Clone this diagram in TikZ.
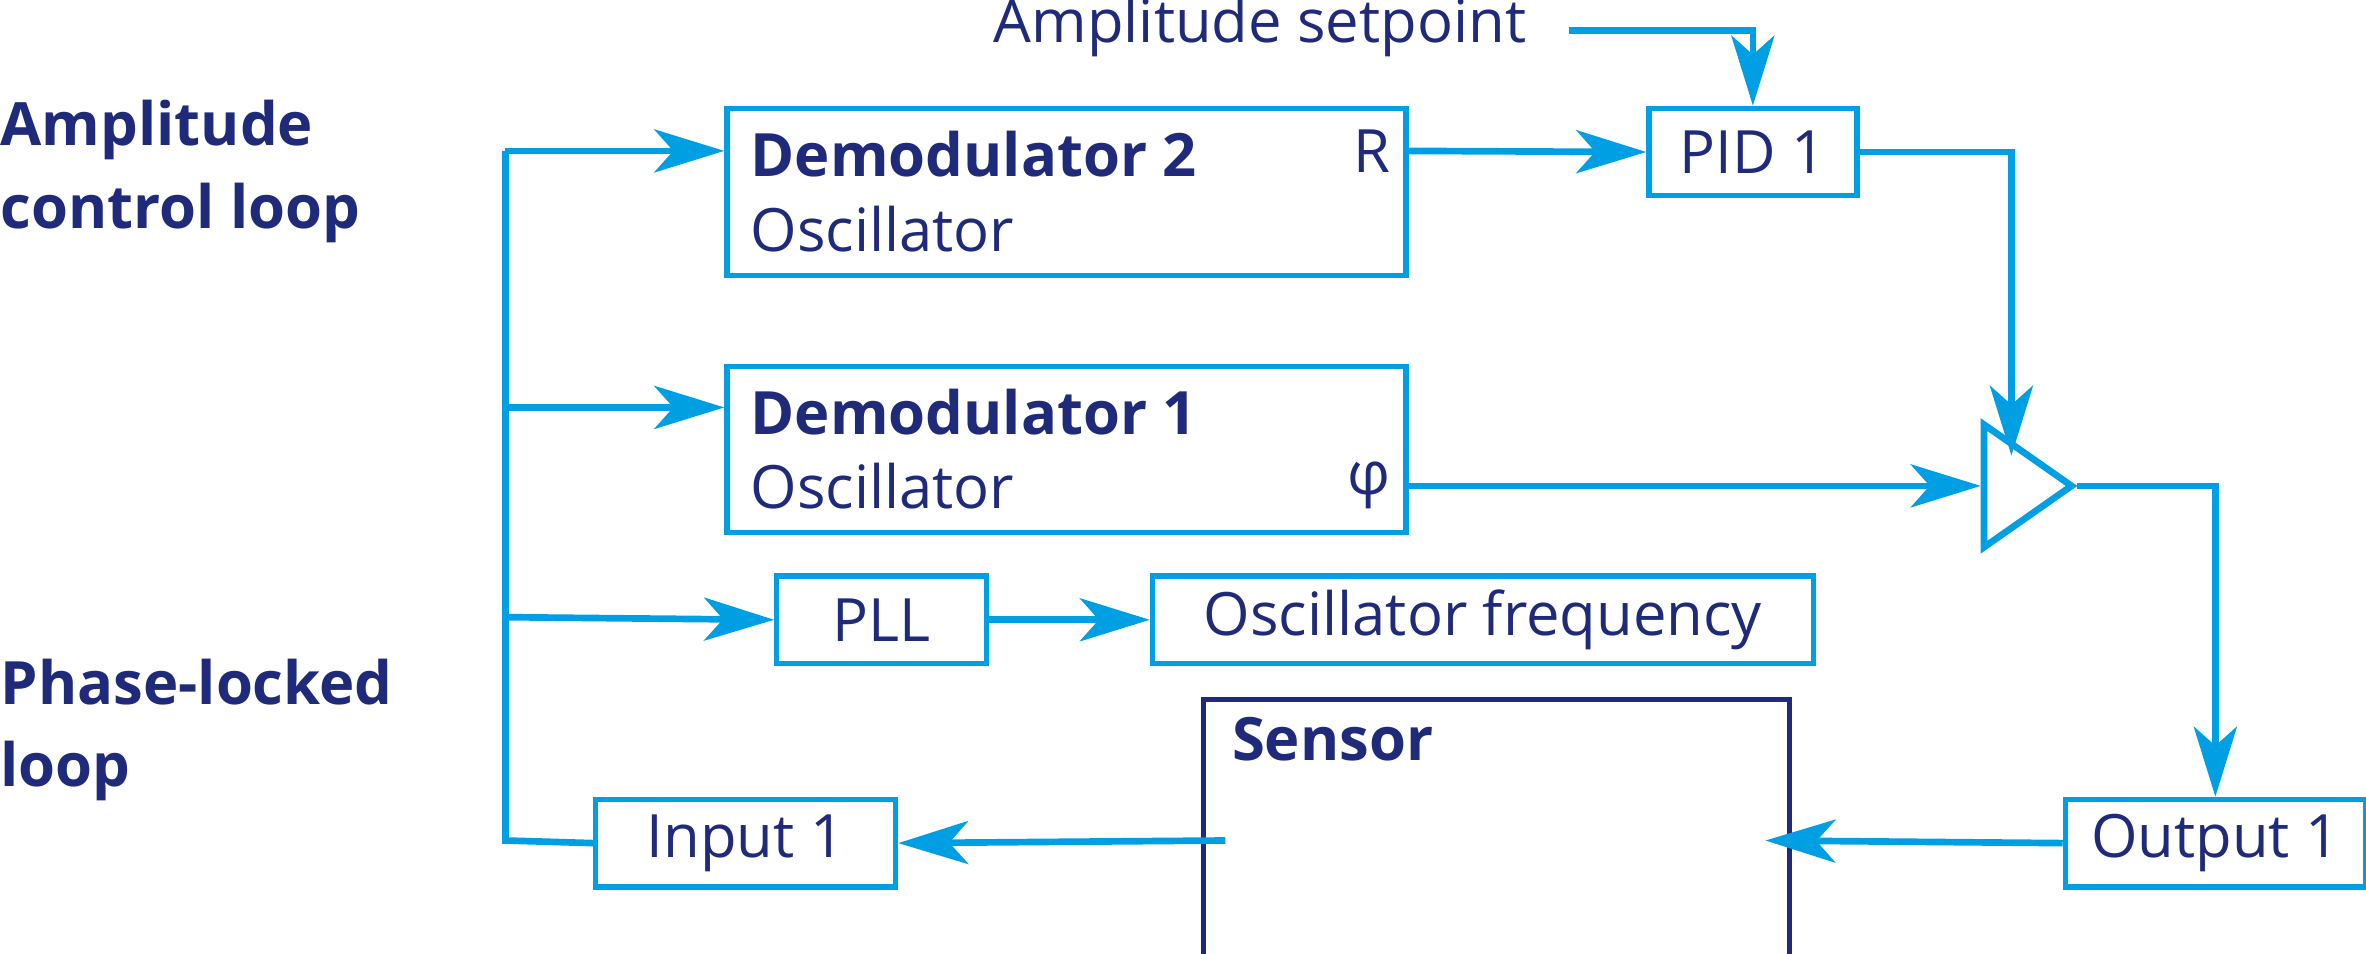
\documentclass[tikz,border=0pt]{standalone}
\usepackage{fontspec}
\setmainfont{Open Sans}
\usepackage{tikz}
\usetikzlibrary{positioning, arrows.meta, shapes.geometric}
\definecolor{zblue}{HTML}{009FE3}
\definecolor{znavy}{HTML}{1F2A7A}
\tikzset{
    sig/.style={draw=zblue, line width=1.9pt, -{Stealth[length=7mm, width=4.3mm, inset=1.9mm]}},
    wire/.style={draw=zblue, line width=1.9pt},
    blk/.style={draw=zblue, line width=1.5pt, inner sep=0pt, anchor=north west, text=znavy},
    lbl/.style={text=znavy, font=\fontsize{17}{20}\selectfont, inner sep=0pt},
    hdr/.style={lbl, font=\fontsize{17}{20}\selectfont\bfseries}
}
\begin{document}
\begin{tikzpicture}[x=0.01509cm, y=-0.01509cm]
\useasboundingbox (0,0) rectangle (1568,632);

% Blocks
\node[blk, minimum width=6.79cm, minimum height=1.675cm] (D2) at (480,70) {};
\node[blk, minimum width=6.79cm, minimum height=1.66cm] (D1) at (480,241) {};
\node[blk, minimum width=2.10cm, minimum height=0.875cm] (PLL) at (513,380) {};
\node[blk, minimum width=6.61cm, minimum height=0.875cm] (OF) at (762,380) {};
\node[blk, draw=znavy, minimum width=5.855cm, minimum height=2.958cm] (S) at (796,462) {};
\node[blk, minimum width=3.0cm, minimum height=0.875cm] (IN) at (393,528) {};
\node[blk, minimum width=3.0cm, minimum height=0.875cm] (OUT) at (1367,528) {};
\node[blk, minimum width=2.08cm, minimum height=0.875cm] (PID) at (1091,70) {};
\node[isosceles triangle, draw=zblue, line width=1.9pt, minimum height=0.875cm,
      minimum width=1.10cm, isosceles triangle apex angle=70, inner sep=0pt] (A) at (1336,322) {};

% Texts
\node[hdr, anchor=west] at (497,102) {Demodulator 2};
\node[lbl, anchor=east] at (922,100) {R};
\node[lbl, anchor=west] at (497,152) {Oscillator};
\node[hdr, anchor=west] at (497,273) {Demodulator 1};
\node[lbl, anchor=west] at (497,322) {Oscillator};
\node[lbl, anchor=east] at (922,322) {φ};
\node[lbl] at (PLL.center) {PLL};
\node[lbl] at (OF.center) {Oscillator frequency};
\node[hdr, anchor=west] at (816,490) {Sensor};
\node[lbl] at (IN.center) {Input 1};
\node[lbl] at (OUT.center) {Output 1};
\node[lbl] at (PID.center) {PID 1};
\node[lbl] (SP) at (835,18) {Amplitude setpoint};
\node[hdr, font=\fontsize{17}{23.5}\selectfont\bfseries, align=left, anchor=north west] at (0,66) {Amplitude\\control loop};
\node[hdr, font=\fontsize{17}{23.5}\selectfont\bfseries, align=left, anchor=north west] at (0,436) {Phase-locked\\loop};

% Coordinates
\coordinate (busT) at (335,100);
\coordinate (bus1) at (335,270);
\coordinate (bus2) at (335,409);
\coordinate (busB) at (335,557);
\coordinate (spA) at (1040,20);
\coordinate (sIn) at (812,557);
\coordinate (sOut) at (1170,557);

% Connections
\draw[wire] (IN.west) -- (busB) -- (busT);
\draw[sig] (busT) -- (D2.west |- busT);
\draw[sig] (bus1) -- (D1.west |- bus1);
\draw[sig] (bus2) -- (PLL.west);
\draw[sig] (PLL.east) -- (OF.west);
\draw[sig] (D2.east |- busT) -- (PID.west);
\draw[sig] (spA) -| (PID.north);
\draw[sig] (PID.east) -| (1333,302);
\draw[sig] (D1.east |- A.west) -- (A.west);
\draw[sig] (A.apex) -| (OUT.north);
\draw[sig] (OUT.west) -- (sOut);
\draw[sig] (sIn) -- (IN.east);

\end{tikzpicture}
\end{document}
